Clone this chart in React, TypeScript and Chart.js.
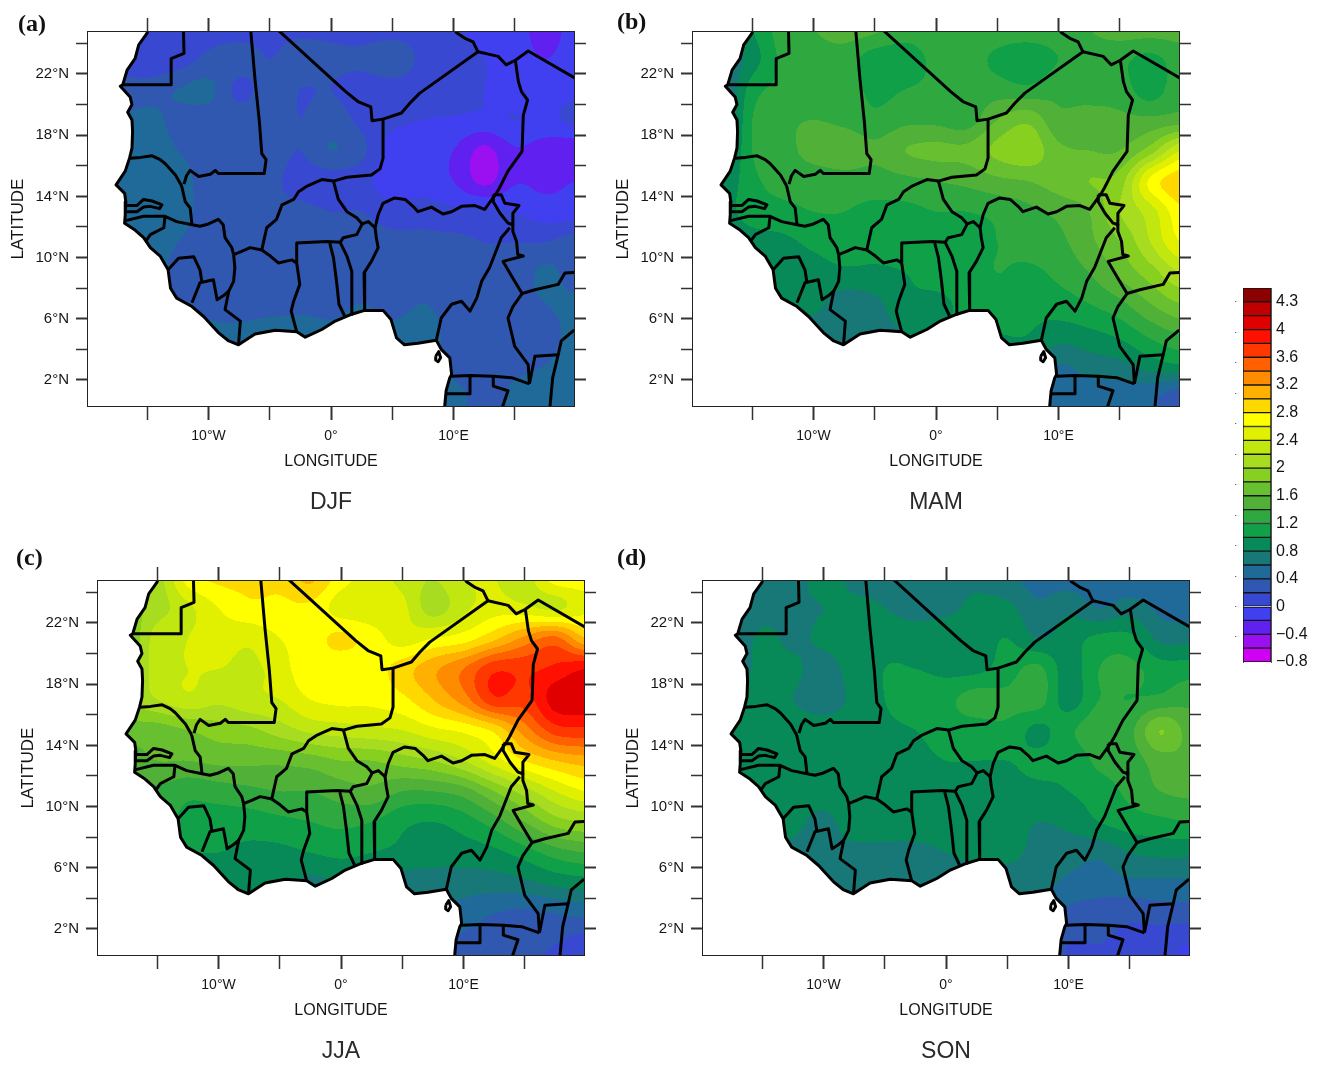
import React, { useEffect, useRef } from "react";
import { Chart, registerables } from "chart.js";

Chart.register(...registerables);

type Pt = [number, number];

// ---- grid of the gridded field (deg) ----
const gridLons = [-20, -17.5, -15, -12.5, -10, -7.5, -5, -2.5, 0, 2.5, 5, 7.5, 10, 12.5, 15, 17.5, 20];
const gridLats = [25, 23, 21, 19, 17, 15, 13, 11, 9, 7, 5, 3, 1];

const djfValues = [
  [.1,.1,.05,.1,.1,.1,.15,.15,.15,.1,.1,.1,.05,-.1,-.1,-.3,-.1],
  [.1,.1,.05,.1,.25,.3,.2,.3,.25,.25,.35,.15,.1,.0,-.1,-.2,-.1],
  [.3,.3,.3,.4,.45,.15,.3,.2,.2,.1,.1,.1,.1,.0,-.1,-.1,-.05],
  [.4,.4,.45,.35,.3,.3,.3,.2,.3,.15,.05,0,-.02,-.05,.0,-.05,.05],
  [.45,.45,.5,.4,.3,.25,.3,.2,.4,.25,-.1,-.12,-.2,-.45,-.22,-.3,-.35],
  [.5,.5,.55,.5,.3,.3,.25,.12,.1,.08,-.15,-.1,-.2,-.45,-.22,-.25,-.2],
  [.5,.5,.55,.5,.3,.3,.25,.25,.2,.2,.1,.1,.05,.05,0,-.1,-.1],
  [.5,.5,.5,.4,.3,.3,.3,.3,.3,.3,.25,.25,.25,.2,.2,.2,.3],
  [.5,.5,.5,.35,.3,.3,.3,.3,.3,.3,.3,.25,.3,.25,.25,.45,.3],
  [.5,.5,.5,.4,.3,.25,.25,.3,.3,.4,.3,.4,.3,.3,.3,.4,.45],
  [.6,.6,.6,.6,.5,.5,.6,.6,.5,.6,.5,.55,.3,.3,.35,.3,.5],
  [.6,.6,.6,.6,.6,.6,.6,.6,.6,.6,.6,.6,.3,.3,.35,.4,.5],
  [.6,.6,.6,.6,.6,.6,.6,.6,.6,.6,.6,.6,.5,.3,.45,.5,.5],
];
const mamValues = [
  [.7,.7,1.0,1.3,1.4,1.5,1.45,1.3,1.35,1.4,1.35,1.35,1.35,1.4,1.5,1.5,1.5],
  [.6,.6,.9,1.25,1.3,1.3,1.1,1.1,1.25,1.3,1.15,1.05,1.2,1.3,1.25,1.15,1.3],
  [.4,.5,1.1,1.25,1.3,1.3,1.15,1.2,1.25,1.3,1.3,1.25,1.35,1.3,1.3,1.1,1.35],
  [.5,.5,1.2,1.35,1.4,1.35,1.25,1.35,1.35,1.3,1.6,1.75,1.45,1.5,1.45,1.45,1.5],
  [.5,.6,1.2,1.3,1.5,1.55,1.45,1.6,1.65,1.65,1.85,1.95,1.65,1.6,1.6,1.9,2.4],
  [.7,.8,1.15,1.25,1.25,1.3,1.3,1.35,1.4,1.45,1.55,1.6,1.7,1.8,1.9,2.65,2.95],
  [.8,.9,1.1,1.15,1.2,1.2,1.15,1.15,1.2,1.2,1.25,1.35,1.45,1.6,2.0,2.3,2.75],
  [.7,.8,.9,.95,1.05,1.15,1.1,1.15,1.15,1.15,1.2,1.3,1.35,1.55,1.8,2.2,2.6],
  [.7,.7,.8,.9,.9,.95,.95,1.0,1.1,1.1,1.2,1.15,1.25,1.4,1.65,1.9,2.2],
  [.6,.6,.7,.8,.85,.7,.75,.95,.95,1.05,1.1,1.05,1.1,1.2,1.35,1.6,1.8],
  [.5,.5,.6,.65,.7,.7,.7,.8,1.0,1.0,1.0,1.0,.9,.95,1.05,1.25,1.4],
  [.5,.5,.5,.6,.6,.6,.6,.7,.9,.9,.9,.9,.6,.7,.75,.9,1.0],
  [.4,.4,.4,.5,.5,.5,.5,.6,.7,.7,.7,.7,.5,.5,.5,.45,.3],
];
const jjaValues = [
  [2,2,2.1,2.7,2.85,2.85,2.85,3.05,2.7,2.5,2.35,2.2,2.4,2.4,2.3,2.7,2.7],
  [1.9,1.9,2.1,2.35,2.6,2.75,2.75,2.75,2.5,2.45,2.45,2.1,2.35,2.5,2.45,2.35,2.55],
  [1.8,1.8,2.3,2.4,2.5,2.45,2.6,2.7,2.85,2.7,2.5,2.6,2.7,2.95,3.25,3.45,3.0],
  [1.9,1.9,2.3,2.4,2.4,2.35,2.5,2.75,2.65,2.7,2.9,3.15,3.4,3.75,3.75,3.85,4.0],
  [1.9,2.0,2.2,2.35,2.25,2.35,2.4,2.6,2.65,2.65,2.75,3.0,3.3,3.75,3.7,4.1,4.15],
  [1.7,1.7,1.7,1.8,1.9,1.95,2.1,2.25,2.3,2.35,2.4,2.55,2.65,2.85,3.3,3.7,3.75],
  [1.5,1.5,1.6,1.6,1.65,1.65,1.65,1.7,1.8,1.8,1.9,2.0,2.2,2.5,2.8,3.0,3.1],
  [1.3,1.3,1.35,1.25,1.3,1.35,1.4,1.4,1.5,1.55,1.4,1.4,1.5,1.8,2.1,2.4,2.6],
  [1.2,1.2,1.2,1.15,1.1,1.1,1.15,1.2,1.25,1.2,1.05,1.0,1.1,1.3,1.6,1.9,2.0],
  [1,1,1,1,1,.95,.95,1,1.05,1.0,.95,.9,.9,.95,1.1,1.3,1.4],
  [.8,.8,.8,.8,.85,.85,.85,.75,.8,.8,.7,.7,.7,.7,.75,.85,.9],
  [.7,.7,.7,.7,.7,.7,.7,.7,.7,.7,.6,.6,.5,.4,.35,.4,.45],
  [.6,.6,.6,.6,.6,.6,.6,.6,.6,.5,.5,.5,.35,.3,.25,.2,.1],
];
const sonValues = [
  [.7,.7,.7,.7,.9,.75,.75,.75,.75,.75,.65,.5,.5,.45,.45,.45,.45],
  [.6,.6,.7,.75,.8,.85,.8,.7,.75,.85,.85,.65,.75,.6,.7,.55,.5],
  [.6,.6,.85,.75,.85,.95,.95,.95,.95,.9,1,.8,.9,1.05,1.05,.75,.75],
  [.7,.7,.85,.85,.7,.9,1,1.0,.95,.95,1.1,1.25,.9,1.2,1.25,1.1,1.1],
  [.8,.8,.85,.8,.7,.85,1,1.15,1.15,1.3,1.25,1.3,.9,1.2,1.2,1.25,1.35],
  [.85,.85,.9,.9,.9,.9,.95,1.0,1.1,1.1,1.15,.95,1.15,1.35,1.35,1.8,1.5],
  [.9,.9,.9,.95,.95,.95,.95,.95,1.0,1.0,1.0,1.05,1.05,1.25,1.3,1.5,1.55],
  [.9,.9,.9,.9,.9,.95,.95,.95,.95,.95,.95,.95,1.0,1.1,1.25,1.4,1.45],
  [.8,.85,.9,.85,.75,.9,.9,.9,.9,.9,.9,.8,.85,1.0,1.1,1.15,1.2],
  [.7,.75,.8,.75,.75,.75,.75,.75,.8,.85,.85,.75,.7,.65,.8,.85,.85],
  [.7,.7,.7,.7,.7,.7,.7,.7,.7,.7,.7,.7,.55,.5,.55,.55,.55],
  [.6,.6,.6,.6,.6,.6,.6,.6,.6,.6,.6,.5,.35,.3,.25,.3,.3],
  [.5,.5,.5,.5,.5,.5,.5,.5,.5,.5,.5,.4,.2,.2,.15,.05,.0],
];

// ---- colour levels ----
const levelBase = -0.8;
const levelStep = 0.2;
const levelColors = [
  "#d000f5","#9a10f0","#6020f0","#4040f0","#3848d0","#3058b0","#206a9a","#187878","#088a58",
  "#10a048","#30a840","#50b038","#68c030","#88d020","#a8dc20","#c0e810","#e0f000","#ffff00",
  "#ffd800","#ffb000","#ff8c00","#ff6000","#ff3800","#ff1000","#e00000","#c00000","#8b0000",
];
const barTickValues = [-.8,-.4,0,.4,.8,1.2,1.6,2,2.4,2.8,3.2,3.6,4,4.4];
const barTickLabels = ["\u22120.8","\u22120.4","0","0.4","0.8","1.2","1.6","2","2.4","2.8","3.2","3.6","4","4.3"];
const barDotValues = [-.41,.03,.47,.91,1.35,1.79,2.23,2.67,3.11,3.55,3.99,4.43];

// ---- axes ----
const lonMin = -19.84, lonMax = 19.84, latMin = 0.3, latMax = 24.745;
const lonTicks = [-15,-10,-5,0,5,10,15];
const lonLabels: Record<string,string> = { "-10": "10\u00b0W", "0": "0\u00b0", "10": "10\u00b0E" };
const latTicks = [2,4,6,8,10,12,14,16,18,20,22,24];
const latLabels: Record<string,string> = { "2":"2\u00b0N","6":"6\u00b0N","10":"10\u00b0N","14":"14\u00b0N","18":"18\u00b0N","22":"22\u00b0N" };

// ---- map lines [lon, lat] ----
const coastline: Pt[] = [[-14.9,25],[-15.03,24.65],[-15.7,23.9],[-16,23],[-16.65,22.25],[-17,21.3],[-17.2,21.2],[-16.4,20.5],[-16.25,20],[-16.6,19.5],[-16.25,19],[-16.2,18.25],[-16.25,17.15],[-16.45,16.5],[-16.8,15.65],[-17.55,14.75],[-16.85,14.2],[-16.75,13.65],[-16.8,12.8],[-16.85,12.25],[-16,11.8],[-15.3,11.3],[-14.75,10.65],[-13.95,10.1],[-13.3,9.2],[-13.1,8],[-12.6,7.35],[-11.35,6.8],[-10.4,6.15],[-9.2,5.1],[-8.35,4.55],[-7.55,4.3],[-6.2,5],[-4.55,5.25],[-2.8,5.15],[-2.1,4.8],[-.75,5.3],[.35,5.85],[1.7,6.3],[2.75,6.55],[4.25,6.55],[4.9,5.95],[5.35,4.75],[6,4.3],[7.1,4.4],[8.6,4.6],[9,4],[9.7,3.45],[9.85,2.35],[9.7,2.15],[9.4,1.3],[9.25,0]];
const oceanCorners: Pt[] = [[-21,0],[-21,25]];
const borderLines: Pt[][] = [
  [[-12.05,25],[-12,23.35],[-13.05,23],[-13.05,21.3],[-17.05,21.3]],
  [[-6.57,25],[-6.2,21.6],[-5.85,18.9],[-5.65,16.8],[-5.3,16.4],[-5.45,15.5],[-9.2,15.5],[-9.45,15.7],[-9.85,15.45],[-10.8,15.3],[-11.5,15.7],[-11.8,15.35],[-12,14.8]],
  [[-16.4,16.5],[-15.55,16.55],[-14.6,16.65],[-13.95,16.4],[-13.55,16.15],[-12.7,15.4],[-12.2,14.7]],
  [[-12.2,14.7],[-11.9,13.65],[-11.5,13.25],[-11.35,12.15]],
  [[-16.8,13.4],[-15.85,13.4],[-15.3,13.8],[-14.6,13.7],[-13.8,13.45],[-14,13.2],[-14.75,13.35],[-15.3,13.3],[-15.85,13],[-16.75,13]],
  [[-16.85,12.4],[-15.3,12.7],[-13.55,12.7],[-12.6,12.35],[-11.35,12.15]],
  [[-13.55,12.7],[-13.65,11.95],[-14.75,11.5],[-15.15,11.05]],
  [[-11.35,12.15],[-10.7,12.05],[-10,12.2],[-9.2,12.5],[-8.8,12.15],[-8.65,11.3],[-8.1,10.65],[-7.95,10.2]],
  [[-7.95,10.2],[-7.3,10.4],[-6.6,10.65],[-5.65,10.5]],
  [[-5.65,10.5],[-5.25,11.95],[-4.45,12.5],[-4,13.45],[-3.05,13.8],[-2.65,14.3],[-2,14.65],[-.75,15.1],[.2,15]],
  [[.2,15],[1.3,15.25],[3.3,15.4],[4,15.8],[4.25,16.5],[4.25,19.05]],
  [[4.25,19.05],[3.35,18.95],[3.25,19.85],[2.2,20.2],[1.2,20.85],[-4.5,25]],
  [[4.25,19.05],[5.75,19.45],[6.45,20.1],[7.25,20.75],[12,23.45]],
  [[12,23.45],[11.6,24.1],[10.9,24.35],[10.25,24.7],[10,25]],
  [[12,23.45],[13.65,23.15],[14.3,22.6],[15.05,22.9]],
  [[15.05,22.9],[16.1,23.5],[20.2,21.6]],
  [[15.05,22.9],[15.3,21.5],[15.55,20.85],[16.05,20.3],[15.7,19.3],[15.6,16.95],[14.45,15.65],[13.75,14.55],[13.5,14.2]],
  [[13.5,14.2],[12.55,13.15],[11.75,13.4],[10.65,13.35],[9.85,13],[9.15,12.85],[8.2,13.3],[7.1,13],[6.7,13.35],[6.05,13.8],[5.2,13.9],[4.25,13.55],[3.85,12.8],[3.6,11.95]],
  [[.2,15],[.6,13.8],[1.3,13],[2.1,12.6],[2.55,12.2]],
  [[2.55,12.2],[3.05,12.35],[3.6,11.95]],
  [[2.55,12.2],[2.1,11.5],[1,11.3],[.75,11]],
  [[3.6,11.95],[3.7,11.3],[3.85,10.65],[3.3,9.75],[2.7,9],[2.75,6.55]],
  [[.75,11],[1.3,10.1],[1.7,9.1],[1.7,6.3]],
  [[-.1,10.95],[.2,10],[.45,8.45],[.65,6.95],[1.1,6.2]],
  [[-2.8,10.95],[-.35,11.05],[.75,11]],
  [[-2.8,10.95],[-2.8,9.65],[-2.55,8.25],[-3.05,7.15],[-3.25,6.5],[-2.8,5.15]],
  [[-5.65,10.5],[-4.95,10.1],[-4.3,9.65],[-3.2,9.85],[-2.8,9.65]],
  [[-7.95,10.2],[-7.85,9.35],[-7.95,8.45],[-8.35,7.8],[-8.65,6.6],[-7.4,5.85],[-7.55,4.3]],
  [[-11.35,7.05],[-10.7,8.35],[-9.6,8.55],[-9.3,7.25],[-8.8,7.5],[-8.35,7.8]],
  [[-13.3,9.2],[-12.45,9.95],[-11.2,10.05],[-10.7,9.2],[-10.55,8.45]],
  [[14.6,11.95],[13.9,11.3],[12.95,9.35],[12.3,8.45],[11.9,7.35],[11.35,6.5],[10.65,7.15],[9.85,6.95],[9,6.05],[8.6,4.6]],
  [[13.25,14.1],[13.9,14.1],[14.2,13.55],[15.35,13.4],[14.85,12.9],[14.85,12.15],[14.45,12.25],[13.8,12.9],[13.25,13.65],[13.25,14.1]],
  [[14.85,12.15],[14.85,11.7],[15.15,11.05],[15.25,10.2],[15.7,10.1],[14.05,9.75],[14.85,8.65],[15.6,7.65]],
  [[15.6,7.65],[16.65,7.9],[18.55,8.25],[19.1,9],[20.2,9.05]],
  [[15.6,7.65],[14.85,6.8],[14.45,6.05],[15,4.2],[16.1,3],[16.2,1.8]],
  [[9.85,2.25],[11.35,2.3],[13.25,2.25],[14.75,2.15],[16.2,1.75]],
  [[16.2,1.75],[16.65,3.55],[18.55,3.65],[18.1,2.15],[17.85,0]],
  [[18.55,3.65],[18.8,4.55],[19.75,5.2],[20.2,5.3]],
  [[11.35,2.3],[11.35,1.1],[9.45,1.1]],
  [[13.25,2.25],[13.25,1.6],[14.45,1.3],[13.9,0]],
  [[8.55,3.55],[8.8,3.85],[8.95,3.45],[8.75,3.2],[8.55,3.3],[8.55,3.55]],
];

const uiFont = "'Liberation Sans', Arial, sans-serif";
const inkColor = "#151515";

function cubic(p0: number, p1: number, p2: number, p3: number, t: number) {
  return 0.5 * (2 * p1 + (p2 - p0) * t + (2 * p0 - 5 * p1 + 4 * p2 - p3) * t * t + (3 * p1 - p0 - 3 * p2 + p3) * t * t * t);
}
function sampleField(rows: number[][], lon: number, lat: number) {
  const nc = gridLons.length, nr = gridLats.length;
  const fx = (lon - gridLons[0]) / (gridLons[1] - gridLons[0]);
  const fy = (gridLats[0] - lat) / (gridLats[0] - gridLats[1]);
  const ix = Math.max(0, Math.min(nc - 2, Math.floor(fx)));
  const iy = Math.max(0, Math.min(nr - 2, Math.floor(fy)));
  const tx = fx - ix, ty = fy - iy;
  const at = (r: number, c: number) => rows[Math.max(0, Math.min(nr - 1, r))][Math.max(0, Math.min(nc - 1, c))];
  const col = [0, 1, 2, 3].map((k) => cubic(at(iy - 1 + k, ix - 1), at(iy - 1 + k, ix), at(iy - 1 + k, ix + 1), at(iy - 1 + k, ix + 2), tx));
  return cubic(col[0], col[1], col[2], col[3], ty);
}
const hexRgb = (h: string) => [1, 3, 5].map((i) => parseInt(h.slice(i, i + 2), 16));

const fieldPlugin = {
  id: "fieldFill",
  beforeDatasetsDraw(chart: any) {
    const ds = chart.data.datasets.find((d: any) => d.fieldPoints);
    if (!ds) return;
    const nc = gridLons.length;
    const pts = ds.data;
    const rows: number[][] = gridLats.map((_, r) => gridLons.map((_, c) => pts[r * nc + c].v));
    const { left, top, width, height } = chart.chartArea;
    const w = Math.round(width), h = Math.round(height);
    const off = document.createElement("canvas");
    off.width = w; off.height = h;
    const octx = off.getContext("2d")!;
    const img = octx.createImageData(w, h);
    const rgb = levelColors.map(hexRgb);
    const sx = chart.scales.x, sy = chart.scales.y;
    for (let j = 0; j < h; j++) {
      const lat = sy.getValueForPixel(top + j + 0.5);
      for (let i = 0; i < w; i++) {
        const lon = sx.getValueForPixel(left + i + 0.5);
        const v = sampleField(rows, lon, lat);
        const k = Math.max(0, Math.min(rgb.length - 1, Math.floor((v - levelBase) / levelStep)));
        const o = (j * w + i) * 4;
        img.data[o] = rgb[k][0]; img.data[o + 1] = rgb[k][1]; img.data[o + 2] = rgb[k][2]; img.data[o + 3] = 255;
      }
    }
    octx.putImageData(img, 0, 0);
    const ctx = chart.ctx;
    ctx.save();
    ctx.beginPath();
    ctx.rect(left, top, width, height);
    ctx.clip();
    ctx.filter = "blur(0.7px)";
    ctx.drawImage(off, left, top);
    ctx.restore();
  },
};

const toXY = (line: Pt[]) => line.map(([x, y]) => ({ x, y }));

function buildPanel(canvas: HTMLCanvasElement, title: string, values: number[][]) {
  const fieldPts: any[] = [];
  gridLats.forEach((lat, r) => gridLons.forEach((lon, c) => fieldPts.push({ x: lon, y: lat, v: values[r][c] })));
  const lines = [...borderLines, coastline].map((l) => ({
    type: "scatter", data: toXY(l), showLine: true, pointRadius: 0, borderColor: "#000000", borderWidth: 3,
    borderJoinStyle: "round", fill: false,
  }));
  const tickStyle = (labels: Record<string, string>) => ({
    color: inkColor, drawOnChartArea: false, drawTicks: true,
    tickColor: "#333333",
    tickWidth: (c: any) => (c.tick && labels[String(c.tick.value)] ? 2 : 1.5),
  });
  return new Chart(canvas, {
    type: "scatter",
    data: {
      datasets: [
        ...lines,
        { type: "scatter", data: fieldPts, fieldPoints: true, pointRadius: 0, showLine: false },
        { type: "scatter", data: toXY([...coastline, ...oceanCorners]), showLine: true, pointRadius: 0, borderWidth: 0, fill: "shape", backgroundColor: "#ffffff" },
      ] as any,
    },
    plugins: [fieldPlugin],
    options: {
      responsive: false, animation: false, events: [],
      layout: { autoPadding: false, padding: 0 },
      plugins: {
        legend: { display: false }, tooltip: { enabled: false },
        title: { display: true, fullSize: false, text: title, position: "bottom", color: "#2a2a2a", padding: { top: 20, bottom: 0 }, font: { family: uiFont, size: 23, lineHeight: 1.0435, weight: "normal" } },
      },
      scales: {
        x: {
          type: "linear", position: "bottom", min: lonMin, max: lonMax, bounds: "data",
          afterBuildTicks: (s: any) => { s.ticks = lonTicks.map((value) => ({ value })); },
          afterFit: (s: any) => { s.height = 65; },
          grid: { ...tickStyle(lonLabels), tickLength: 14 },
          border: { display: true, color: "#222222", width: 2 },
          ticks: { autoSkip: false, maxRotation: 0, padding: 8, color: inkColor, font: { family: uiFont, size: 14 }, callback: (v: any) => lonLabels[String(v)] ?? "" },
          title: { display: true, text: "LONGITUDE", color: inkColor, padding: 0, font: { family: uiFont, size: 16 } },
        },
        x2: {
          type: "linear", axis: "x", position: "top", min: lonMin, max: lonMax, bounds: "data",
          afterBuildTicks: (s: any) => { s.ticks = lonTicks.map((value) => ({ value })); },
          afterFit: (s: any) => { s.height = 32; },
          grid: { ...tickStyle(lonLabels), tickLength: 14 },
          border: { display: true, color: "#222222", width: 2 },
          ticks: { display: false },
        },
        y: {
          type: "linear", position: "left", min: latMin, max: latMax, bounds: "data",
          afterBuildTicks: (s: any) => { s.ticks = latTicks.map((value) => ({ value })); },
          afterFit: (s: any) => { s.width = 88; },
          grid: { ...tickStyle(latLabels), tickLength: 12 },
          border: { display: true, color: "#222222", width: 2 },
          ticks: { autoSkip: false, padding: 7, color: inkColor, font: { family: uiFont, size: 15 }, callback: (v: any) => latLabels[String(v)] ?? "" },
          title: { display: true, text: "LATITUDE", color: inkColor, padding: { top: 8, bottom: 0 }, font: { family: uiFont, size: 17 } },
        },
        y2: {
          type: "linear", axis: "y", position: "right", min: latMin, max: latMax, bounds: "data",
          afterBuildTicks: (s: any) => { s.ticks = latTicks.map((value) => ({ value })); },
          afterFit: (s: any) => { s.width = 14; },
          grid: { ...tickStyle(latLabels), tickLength: 12 },
          border: { display: true, color: "#222222", width: 2 },
          ticks: { display: false },
        },
      },
    } as any,
  });
}

function buildColorBar(canvas: HTMLCanvasElement) {
  return new Chart(canvas, {
    type: "bar",
    data: {
      labels: [""],
      datasets: levelColors.map((c, i) => ({
        data: [[levelBase + i * levelStep, levelBase + (i + 1) * levelStep]],
        backgroundColor: c, borderColor: "#151515", borderWidth: 1, borderSkipped: false,
        grouped: false, categoryPercentage: 1, barPercentage: 1, yAxisID: "y",
      })) as any,
    },
    options: {
      responsive: false, animation: false, events: [],
      layout: { autoPadding: false, padding: { top: 13, bottom: 13, left: 0, right: 0 } },
      plugins: { legend: { display: false }, tooltip: { enabled: false } },
      scales: {
        x: { display: false },
        y: {
          type: "linear", position: "right", min: levelBase, max: 4.6, bounds: "data",
          afterBuildTicks: (s: any) => { s.ticks = barTickValues.map((value) => ({ value })); },
          afterFit: (s: any) => { s.width = 47; s.paddingTop = 0; s.paddingBottom = 0; },
          grid: { drawOnChartArea: false, drawTicks: false },
          border: { display: true, color: "#555555", width: 1 },
          ticks: { autoSkip: false, padding: 5, color: inkColor, font: { family: uiFont, size: 16 },
            callback: (v: any) => { const i = barTickValues.findIndex((t) => Math.abs(t - v) < 1e-6); return barTickLabels[i] ?? ""; } },
        },
        yd: {
          type: "linear", axis: "y", position: "left", min: levelBase, max: 4.6, bounds: "data",
          afterBuildTicks: (s: any) => { s.ticks = barDotValues.map((value) => ({ value })); },
          afterFit: (s: any) => { s.width = 18; s.paddingTop = 0; s.paddingBottom = 0; },
          grid: { drawOnChartArea: false, drawTicks: false },
          border: { display: true, color: "#555555", width: 1 },
          ticks: { autoSkip: false, padding: 6, color: inkColor, font: { family: uiFont, size: 9 }, callback: () => "." },
        },
      },
    } as any,
  });
}

const panels = [
  { tag: "(a)", title: "DJF", values: djfValues, left: 0, top: 0, tagX: 18, tagY: 9 },
  { tag: "(b)", title: "MAM", values: mamValues, left: 605, top: 0, tagX: 617, tagY: 7 },
  { tag: "(c)", title: "JJA", values: jjaValues, left: 10, top: 549, tagX: 16, tagY: 543 },
  { tag: "(d)", title: "SON", values: sonValues, left: 615, top: 549, tagX: 617, tagY: 543 },
];

export default function App() {
  const refs = useRef<(HTMLCanvasElement | null)[]>([]);
  const barRef = useRef<HTMLCanvasElement | null>(null);
  useEffect(() => {
    const charts = panels.map((p, i) => buildPanel(refs.current[i]!, p.title, p.values));
    charts.push(buildColorBar(barRef.current!));
    return () => charts.forEach((c) => c.destroy());
  }, []);
  return (
    <div style={{ position: "absolute", left: 0, top: 0, width: 1318, height: 1065, background: "#fff", overflow: "hidden" }}>
      {panels.map((p, i) => (
        <React.Fragment key={p.tag}>
          <canvas ref={(el) => { refs.current[i] = el; }} width={588} height={515}
            style={{ position: "absolute", left: p.left, top: p.top, width: 588, height: 515 }} />
          <div style={{ position: "absolute", left: p.tagX, top: p.tagY, fontFamily: "'Liberation Serif', serif", fontWeight: "bold", fontSize: 24, lineHeight: "28px", color: "#111" }}>{p.tag}</div>
        </React.Fragment>
      ))}
      <canvas ref={barRef} width={93} height={400} style={{ position: "absolute", left: 1225, top: 275, width: 93, height: 400 }} />
    </div>
  );
}
